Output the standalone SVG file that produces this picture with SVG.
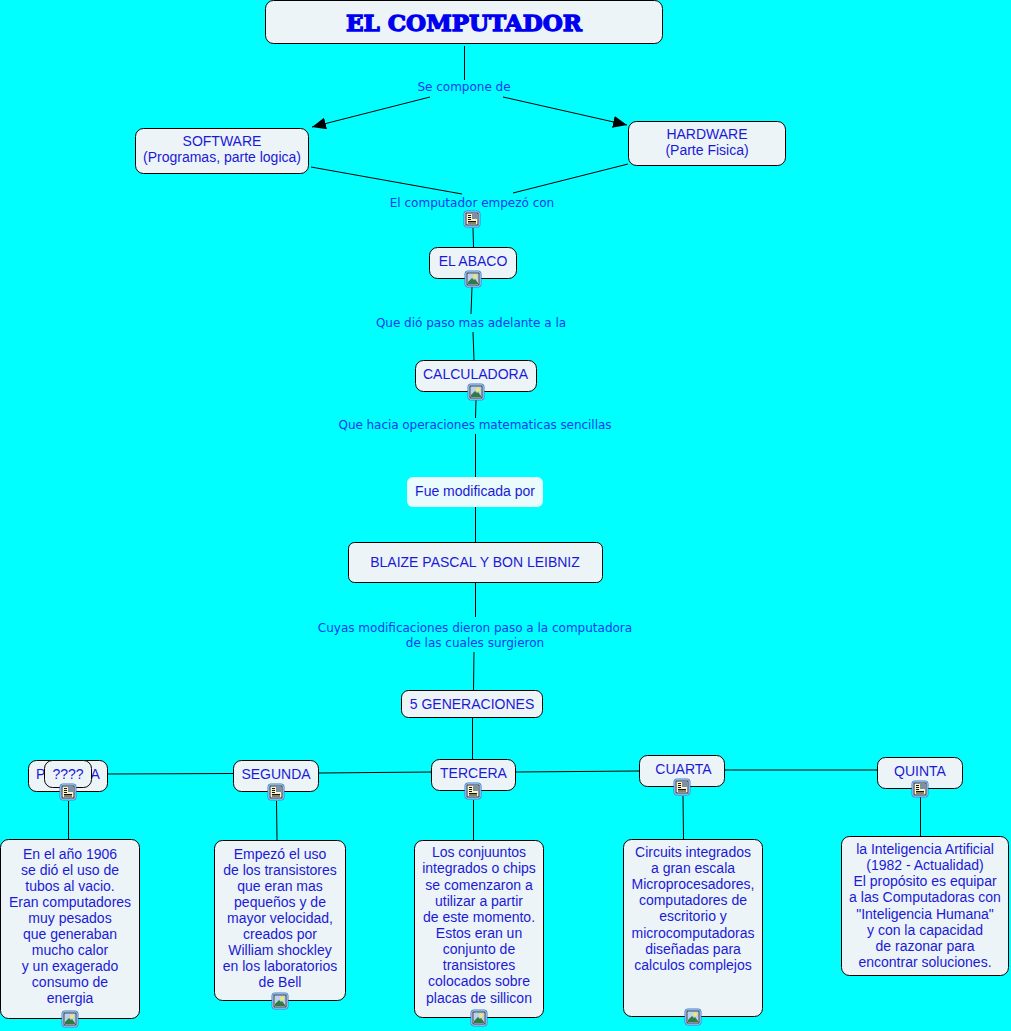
<svg xmlns="http://www.w3.org/2000/svg" width="1011" height="1031" viewBox="0 0 1011 1031">
<style>
.n{fill:#edf4f8;stroke:#000;stroke-width:1}
.t{font:14px "Liberation Sans",Arial,sans-serif;fill:#1a1ad6;text-anchor:middle}
.l{font:12px "DejaVu Sans",Verdana,sans-serif;fill:#0a3cf0;text-anchor:middle}
.c{fill:none;stroke:#000;stroke-width:1}
</style>
<defs>
<marker id="a" markerUnits="userSpaceOnUse" markerWidth="15" markerHeight="13" refX="14" refY="6" orient="auto"><path d="M0 0L14 6L0 12z" fill="#000"/></marker>
<g id="ib"><rect x="-8" y="-8" width="16" height="16" rx="2.500" fill="#d4e6fb" stroke="#3a7fd5"/><rect x="-6" y="-6" width="12" height="12" fill="#fff" stroke="#123"/></g>
<g id="img"><use href="#ib"/><rect x="-5" y="-5" width="10" height="10" fill="#b9d2ee"/><circle cx="2" cy="-2.500" r="2" fill="#f4e66a"/><path d="M-5 5L-5 3L-1 -1L1 1L2 0L5 4V5z" fill="#2f7a45"/></g>
<g id="doc"><use href="#ib"/><rect x="-5" y="-5" width="10" height="10" fill="#fbf3c0"/><path d="M-4 -3.500H-1M-4 -1.500H-1M-4 0.500H-1M-4 2.500H4M-4 4H4" stroke="#111" fill="none"/><rect x="0" y="-5" width="5" height="5" fill="#7f8fa8"/></g>
</defs>
<rect width="1011" height="1031" fill="#0ff"/>
<g id="connectors">
<path class="c" d="M464.500 46V80"/>
<path class="c" d="M430 97L312 127" marker-end="url(#a)"/>
<path class="c" d="M503 97L627 125" marker-end="url(#a)"/>
<path class="c" d="M311 167L462 194"/>
<path class="c" d="M628 164L513 193"/>
<path class="c" d="M473 228L473.500 247"/>
<path class="c" d="M472 287L471 314"/>
<path class="c" d="M473 332L474 360"/>
<path class="c" d="M476 400L475.500 418"/>
<path class="c" d="M475.500 434V477"/>
<path class="c" d="M475.500 507V542"/>
<path class="c" d="M475.500 583V617"/>
<path class="c" d="M474 652L473.500 690"/>
<path class="c" d="M472.500 718V759"/>
<path class="c" d="M108 774L233 773.500"/>
<path class="c" d="M319 773L431 772"/>
<path class="c" d="M516 772L639 771"/>
<path class="c" d="M725 770H877"/>
<path class="c" d="M68.500 801V840"/>
<path class="c" d="M276.500 801L277 840"/>
<path class="c" d="M473.500 800V840"/>
<path class="c" d="M683 796L683.500 839"/>
<path class="c" d="M920.500 797V836"/>
</g>
<g id="n-title"><rect class="n" x="265.500" y="0.500" width="397" height="43" rx="8"/><text x="464" y="31" text-anchor="middle" font-family="'DejaVu Serif',serif" font-weight="bold" font-size="23" fill="#0000f0" stroke="#0000f0" stroke-width="1.300" textLength="236" lengthAdjust="spacingAndGlyphs">EL COMPUTADOR</text></g>
<g id="n-software"><rect class="n" x="135.500" y="128.500" width="173" height="45" rx="8"/><text class="t" x="222" y="146">SOFTWARE</text><text class="t" x="222" y="162">(Programas, parte logica)</text></g>
<g id="n-hardware"><rect class="n" x="628.500" y="121.500" width="157" height="44" rx="8"/><text class="t" x="707" y="139">HARDWARE</text><text class="t" x="707" y="155">(Parte Fisica)</text></g>
<g id="n-abaco"><rect class="n" x="429.500" y="247.500" width="87" height="31" rx="8"/><text class="t" x="473" y="266">EL ABACO</text></g>
<g id="n-calc"><rect class="n" x="415.500" y="360.500" width="121" height="31" rx="8"/><text class="t" x="475.500" y="379">CALCULADORA</text></g>
<g id="n-fue"><rect x="407" y="477" width="136" height="30" rx="6" fill="#e9fbfd"/><text class="t" x="475" y="496">Fue modificada por</text></g>
<g id="n-blaize"><rect class="n" x="348.500" y="542.500" width="254" height="40" rx="6"/><text class="t" x="475" y="567">BLAIZE PASCAL Y BON LEIBNIZ</text></g>
<g id="n-gen"><rect class="n" x="401.500" y="690.500" width="141" height="27" rx="7"/><text class="t" x="472" y="709">5 GENERACIONES</text></g>
<g id="n-primera"><rect class="n" x="28.500" y="760.500" width="79" height="31" rx="8"/><text class="t" x="68" y="779">PRIMERA</text></g>
<g id="n-segunda"><rect class="n" x="233.500" y="760.500" width="85" height="31" rx="8"/><text class="t" x="276" y="779">SEGUNDA</text></g>
<g id="n-tercera"><rect class="n" x="431.500" y="759.500" width="84" height="31" rx="8"/><text class="t" x="473.500" y="778">TERCERA</text></g>
<g id="n-cuarta"><rect class="n" x="639.500" y="755.500" width="85" height="31" rx="8"/><text class="t" x="683.500" y="774">CUARTA</text></g>
<g id="n-quinta"><rect class="n" x="877.500" y="757.500" width="85" height="31" rx="8"/><text class="t" x="920" y="776">QUINTA</text></g>
<g id="n-b1"><rect class="n" x="0.500" y="839.500" width="139" height="179" rx="8"/><text class="t"><tspan x="70" y="859">En el año 1906</tspan><tspan x="70" y="875">se dió el uso de</tspan><tspan x="70" y="891">tubos al vacio.</tspan><tspan x="70" y="907">Eran computadores</tspan><tspan x="70" y="923">muy pesados</tspan><tspan x="70" y="939">que generaban</tspan><tspan x="70" y="955">mucho calor</tspan><tspan x="70" y="971">y un exagerado</tspan><tspan x="70" y="987">consumo de</tspan><tspan x="70" y="1003">energia</tspan></text></g>
<g id="n-b2"><rect class="n" x="214.500" y="840.500" width="131" height="160" rx="8"/><text class="t"><tspan x="280" y="859">Empezó el uso</tspan><tspan x="280" y="875">de los transistores</tspan><tspan x="280" y="891">que eran mas</tspan><tspan x="280" y="907">pequeños y de</tspan><tspan x="280" y="923">mayor velocidad,</tspan><tspan x="280" y="939">creados por</tspan><tspan x="280" y="955">William shockley</tspan><tspan x="280" y="971">en los laboratorios</tspan><tspan x="280" y="987">de Bell</tspan></text></g>
<g id="n-b3"><rect class="n" x="414.500" y="840.500" width="129" height="177" rx="8"/><text class="t"><tspan x="479" y="857">Los conjuuntos</tspan><tspan x="479" y="873">integrados o chips</tspan><tspan x="479" y="890">se comenzaron a</tspan><tspan x="479" y="906">utilizar a partir</tspan><tspan x="479" y="922">de este momento.</tspan><tspan x="479" y="938">Estos eran un</tspan><tspan x="479" y="954">conjunto de</tspan><tspan x="479" y="970">transistores</tspan><tspan x="479" y="986">colocados sobre</tspan><tspan x="479" y="1003">placas de sillicon</tspan></text></g>
<g id="n-b4"><rect class="n" x="623.500" y="839.500" width="139" height="177" rx="8"/><text class="t"><tspan x="693" y="857">Circuits integrados</tspan><tspan x="693" y="873">a gran escala</tspan><tspan x="693" y="889">Microprocesadores,</tspan><tspan x="693" y="905">computadores de</tspan><tspan x="693" y="921">escritorio y</tspan><tspan x="693" y="938">microcomputadoras</tspan><tspan x="693" y="954">diseñadas para</tspan><tspan x="693" y="970">calculos complejos</tspan></text></g>
<g id="n-b5"><rect class="n" x="841.500" y="836.500" width="167" height="139" rx="8"/><text class="t"><tspan x="925" y="854">la Inteligencia Artificial</tspan><tspan x="925" y="870">(1982 - Actualidad)</tspan><tspan x="925" y="886">El propósito es equipar</tspan><tspan x="925" y="902">a las Computadoras con</tspan><tspan x="925" y="919">"Inteligencia Humana"</tspan><tspan x="925" y="935">y con la capacidad</tspan><tspan x="925" y="951">de razonar para</tspan><tspan x="925" y="967">encontrar soluciones.</tspan></text></g>
<g id="n-q"><rect class="n" x="44.500" y="760.500" width="47" height="27" rx="8"/><text class="t" x="68" y="779">????</text></g>
<g id="labels">
<text class="l" x="464" y="91">Se compone de</text>
<text class="l" x="472" y="207">El computador empezó con</text>
<text class="l" x="471" y="327">Que dió paso mas adelante a la</text>
<text class="l" x="475" y="429" textLength="273">Que hacia operaciones matematicas sencillas</text>
<text class="l" x="475" y="632">Cuyas modificaciones dieron paso a la computadora</text>
<text class="l" x="475" y="647">de las cuales surgieron</text>
</g>
<g id="icons">
<use href="#doc" x="472" y="219"/>
<use href="#img" x="473" y="279"/>
<use href="#img" x="476" y="392"/>
<use href="#doc" x="68" y="792"/>
<use href="#doc" x="276" y="792"/>
<use href="#doc" x="473" y="791"/>
<use href="#doc" x="682" y="787"/>
<use href="#doc" x="920" y="789"/>
<use href="#img" x="70" y="1019"/>
<use href="#img" x="280" y="1001"/>
<use href="#img" x="479" y="1018"/>
<use href="#img" x="693" y="1017"/>
</g>
</svg>
